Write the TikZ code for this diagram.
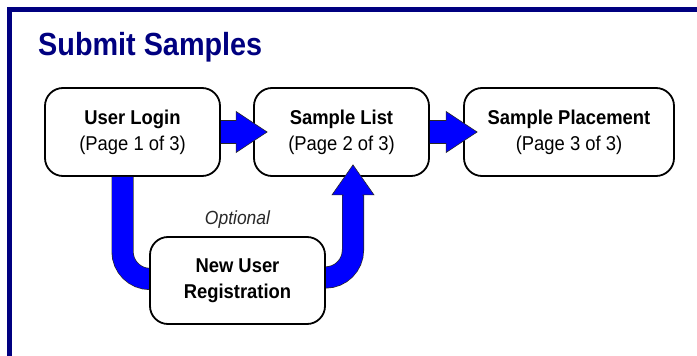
\documentclass[tikz,border=0pt]{standalone}
\usepackage{fontspec}
\setmainfont{Liberation Sans}
\newfontfamily\condfont[FakeStretch=0.92]{Liberation Sans}
\newfontfamily\titlefont[FakeStretch=0.90]{Liberation Sans}
\usetikzlibrary{calc}
\definecolor{navy}{RGB}{0,0,128}
\definecolor{arrblue}{RGB}{0,0,255}
\definecolor{edgegray}{RGB}{40,40,40}
\newcommand\pagearrow[2]{%
  \fill[arrblue] ($(#1.east)+(0,-11.5)$) -- ($(#2.west)+(-17,-11.5)$) -- ($(#2.west)+(-17,-20.5)$) -- ($(#2.west)+(14,0)$) -- ($(#2.west)+(-17,20.5)$) -- ($(#2.west)+(-17,11.5)$) -- ($(#1.east)+(0,11.5)$) -- cycle;
  \draw[arrowline] ($(#1.east)+(0,-11.5)$) -- ($(#2.west)+(-17,-11.5)$) -- ($(#2.west)+(-17,-20.5)$) -- ($(#2.west)+(14,0)$) -- ($(#2.west)+(-17,20.5)$) -- ($(#2.west)+(-17,11.5)$) -- ($(#1.east)+(0,11.5)$);
}
\begin{document}
\begin{tikzpicture}[x=1pt,y=-1pt,
  page/.style={draw=black, line width=1.8pt, rounded corners=18pt, fill=white, minimum height=88pt, align=center, font=\condfont\fontsize{20}{26}\selectfont, inner sep=0pt},
  bandout/.style={draw=edgegray, line width=22pt, rounded corners=27.5pt},
  bandin/.style={draw=arrblue, line width=20.6pt, rounded corners=27.5pt},
  arrowline/.style={draw=edgegray, line width=0.6pt, line join=miter}]
\useasboundingbox (0,0) rectangle (697,356);
\fill[white] (0,0) rectangle (697,356);
\draw[navy, line width=5pt] (9.5,362) -- (9.5,9) -- (703,9);
\node[anchor=base west, text=navy, font=\titlefont\bfseries\fontsize{32}{38}\selectfont, inner sep=0pt] (title) at (38,55) {Submit Samples};
% page boxes
\node[page, minimum width=175pt] (login) at (132.5,132) {\textbf{User Login}\\(Page 1 of 3)};
\node[page, minimum width=175pt] (list) at (341.5,132) {\textbf{Sample List}\\(Page 2 of 3)};
\node[page, minimum width=210pt] (place) at (569,132) {\textbf{Sample Placement}\\(Page 3 of 3)};
\coordinate (upbase) at ($(list.south)+(11.5,18)$);
\coordinate (lstart) at ($(login.south)+(-10,0)$);
% bands (behind the registration box)
\coordinate (nuw) at (150,279);
\coordinate (nue) at (325,277.5);
\draw[bandout] (lstart) |- ($(nuw)+(2,0)$);
\draw[bandin] (lstart) |- ($(nuw)+(2,0)$);
\draw[bandout] ($(nue)+(-2,0)$) -| (upbase);
\draw[bandin] ($(nue)+(-2,0)$) -| (upbase);
% registration box
\node[page, minimum width=175pt, minimum height=87pt] (newuser) at (237.5,280.5) {\textbf{New User}\\\textbf{Registration}};
\node[anchor=base, font=\condfont\itshape\fontsize{19}{22}\selectfont, text=edgegray, inner sep=0pt] (opt) at ($(newuser.north)+(0,-12)$) {Optional};
% straight arrows
\pagearrow{login}{list}
\pagearrow{list}{place}
% up arrow head
\fill[arrblue] ($(upbase)+(-10,1)$) -- ($(upbase)+(-10,0)$) -- ($(upbase)+(-21,0)$) -- ($(list.south)+(11.5,-12)$) -- ($(upbase)+(21,0)$) -- ($(upbase)+(10,0)$) -- ($(upbase)+(10,1)$) -- cycle;
\draw[arrowline] ($(upbase)+(-10,1)$) -- ($(upbase)+(-10,0)$) -- ($(upbase)+(-21,0)$) -- ($(list.south)+(11.5,-12)$) -- ($(upbase)+(21,0)$) -- ($(upbase)+(10,0)$) -- ($(upbase)+(10,1)$);
\end{tikzpicture}
\end{document}
